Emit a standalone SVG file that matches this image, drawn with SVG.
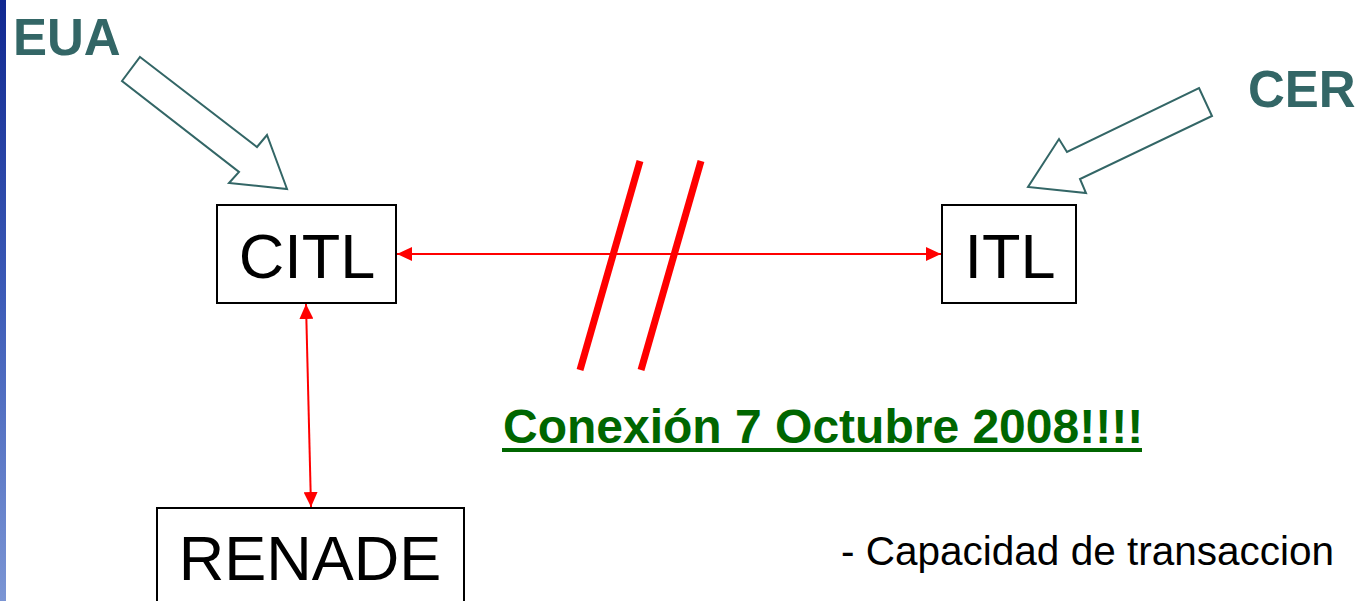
<svg xmlns="http://www.w3.org/2000/svg" width="1357" height="601" viewBox="0 0 1357 601">
  <defs>
    <linearGradient id="side" x1="0" y1="0" x2="0" y2="1">
      <stop offset="0" stop-color="#102890"/>
      <stop offset="0.5" stop-color="#3d5cb8"/>
      <stop offset="1" stop-color="#7b95d4"/>
    </linearGradient>
    <marker id="ah" viewBox="0 0 15 14" refX="15" refY="7" markerWidth="15" markerHeight="14" markerUnits="userSpaceOnUse" orient="auto-start-reverse">
      <path d="M0,0 L15,7 L0,14 Z" fill="#ff0000"/>
    </marker>
    <style>
      .box { fill: #ffffff; stroke: #000000; stroke-width: 2; }
      .lbl { font-family: "Liberation Sans", Arial, sans-serif; font-size: 63px; fill: #000000; text-anchor: middle; }
      .src { font-family: "Liberation Sans", Arial, sans-serif; font-weight: bold; font-size: 51px; fill: #336666; }
      .blk { fill: #ffffff; stroke: #336666; stroke-width: 2; stroke-linejoin: miter; }
      .conn { stroke: #ff0000; stroke-width: 2; fill: none; }
      .slash { stroke: #ff0000; stroke-width: 7; }
    </style>
  </defs>
  <rect x="0" y="0" width="1357" height="601" fill="#ffffff"/>
  <rect x="0" y="0" width="6" height="601" fill="url(#side)"/>

  <g id="eua">
    <text class="src" x="13" y="55">EUA</text>
    <polygon class="blk" points="140,57 257,147 267,135 287,189 229,183 239,172 122,81"/>
  </g>
  <g id="cer">
    <text class="src" x="1248" y="107">CER</text>
    <polygon class="blk" points="1199,88 1212,116 1080,179 1086,193 1028,187 1059,139 1067,152"/>
  </g>

  <g id="citl">
    <rect class="box" x="217" y="205" width="179" height="98"/>
    <text class="lbl" x="307" y="278">CITL</text>
  </g>
  <g id="itl">
    <rect class="box" x="942" y="205" width="134" height="98"/>
    <text class="lbl" x="1010" y="278">ITL</text>
  </g>
  <g id="renade">
    <rect class="box" x="157" y="508" width="307" height="110"/>
    <text class="lbl" x="310" y="580">RENADE</text>
  </g>

  <g id="connectors">
    <line class="conn" x1="397" y1="254" x2="941" y2="254" marker-start="url(#ah)" marker-end="url(#ah)"/>
    <line class="conn" x1="306" y1="304" x2="311" y2="507" marker-start="url(#ah)" marker-end="url(#ah)"/>
  </g>

  <g id="break">
    <line class="slash" x1="640" y1="161" x2="580" y2="370"/>
    <line class="slash" x1="701" y1="161" x2="641" y2="370"/>
  </g>

  <g id="note">
    <text x="503" y="443" font-family="Liberation Sans, Arial, sans-serif" font-weight="bold" font-size="48" fill="#006600">Conexión 7 Octubre 2008!!!!</text>
    <rect x="502" y="448" width="640" height="4" fill="#006600"/>
  </g>
  <g id="bullet">
    <text x="841" y="565" font-family="Liberation Sans, Arial, sans-serif" font-size="40.5" fill="#000000">- Capacidad de transaccion</text>
  </g>
</svg>
